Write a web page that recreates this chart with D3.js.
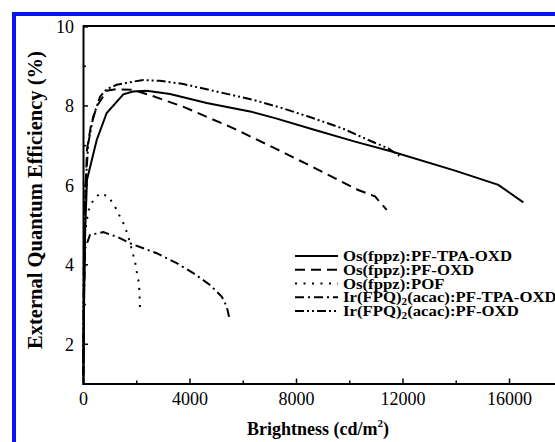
<!DOCTYPE html>
<html>
<head>
<meta charset="utf-8">
<script src="https://cdn.jsdelivr.net/npm/d3@7"></script>
<style>
  html, body { margin: 0; padding: 0; background: #fff; }
  svg { display: block; }
  svg text { font-family: "Liberation Serif", "Times New Roman", Times, "DejaVu Serif", serif !important; }
</style>
</head>
<body>
<svg id="chart" width="555" height="442"></svg>
<script>
// ---- data (brightness cd/m2, EQE %) ----
const seriesNames = [
  "Os(fppz):PF-TPA-OXD",
  "Os(fppz):PF-OXD",
  "Os(fppz):POF",
  "Ir(FPQ)2(acac):PF-TPA-OXD",
  "Ir(FPQ)2(acac):PF-OXD"
];
const osTpaOxd = [[15,1.1],[40,3.0],[80,4.8],[150,6.13],[515,7.13],[890,7.81],[1514,8.28],[1878,8.35],[2393,8.37],[3268,8.29],[4646,8.06],[6272,7.85],[7212,7.68],[8714,7.38],[10216,7.09],[11595,6.84],[13972,6.36],[15599,6.0],[16538,5.56]];
const osPfOxd = [[15,1.2],[40,3.5],[80,5.5],[150,6.9],[300,7.5],[515,7.97],[890,8.37],[1266,8.41],[1889,8.39],[2516,8.26],[3756,7.97],[5634,7.43],[7212,6.92],[8838,6.38],[10340,5.87],[10967,5.71],[11407,5.37]];
const osPof = [[10,1.3],[30,3.5],[80,4.8],[200,5.35],[387,5.62],[639,5.79],[950,5.71],[1202,5.45],[1390,5.20],[1551,4.99],[1701,4.70],[1852,4.32],[1953,4.07],[2017,3.82],[2077,3.61],[2115,3.36],[2141,2.90]];
const irTpaOxd = [[10,1.2],[30,3.0],[80,4.4],[263,4.74],[762,4.81],[1326,4.68],[1765,4.53],[2768,4.28],[3519,4.03],[4143,3.78],[4770,3.48],[5210,3.19],[5397,2.94],[5495,2.65]];
const irPfOxd = [[10,1.5],[30,4.0],[80,5.8],[199,7.05],[387,7.72],[639,8.22],[890,8.41],[1266,8.52],[1889,8.60],[2265,8.64],[2892,8.62],[3767,8.54],[5022,8.35],[6397,8.14],[7399,7.95],[8462,7.72],[9717,7.43],[10716,7.13],[11467,6.92],[11880,6.73]];
const seriesData = [osTpaOxd, osPfOxd, osPof, irTpaOxd, irPfOxd];
const dashes = [null, "10,6", "2,6.5", "9,4,2,4", "9,3,2,3,2,3"];
const xMajorTicks = [0, 4000, 8000, 12000, 16000];
const xMinorTicks = [2000, 6000, 10000, 14000];
const yMajorTicks = [2, 4, 6, 8, 10];
const yMinorTicks = [3, 5, 7, 9];

const FONT = '"Liberation Serif", "Times New Roman", Times, serif';
const svg = d3.select("#chart");
const L = 83, T = 26, B = 383.5;
const x = d3.scaleLinear().domain([0, 18000]).range([L, L + 4.5 * 106.5]);
const y = d3.scaleLinear().domain([1, 10]).range([B, T]);

// blue border
svg.append("rect").attr("x", 12).attr("y", 12).attr("width", 560).attr("height", 4).attr("fill", "#0a14f0");
svg.append("rect").attr("x", 12).attr("y", 12).attr("width", 4).attr("height", 440).attr("fill", "#0a14f0");

// axes
const xAxis = svg.append("g").attr("transform", `translate(0,${B})`)
  .call(d3.axisBottom(x).tickValues(xMajorTicks).tickSize(-5).tickPadding(9).tickFormat(d3.format("d")));
const xMinor = svg.append("g").attr("transform", `translate(0,${B})`)
  .call(d3.axisBottom(x).tickValues(xMinorTicks).tickSize(-3).tickFormat(""));
const yAxis = svg.append("g").attr("transform", `translate(${L},0)`)
  .call(d3.axisLeft(y).tickValues(yMajorTicks).tickSize(-5).tickPadding(9));
const yMinor = svg.append("g").attr("transform", `translate(${L},0)`)
  .call(d3.axisLeft(y).tickValues(yMinorTicks).tickSize(-3).tickFormat(""));
[xAxis, xMinor, yAxis, yMinor].forEach(g => {
  g.attr("font-family", FONT);
  g.select(".domain").attr("stroke", "#000").attr("stroke-width", 2);
  g.selectAll(".tick line").attr("stroke", "#000").attr("stroke-width", 1.5);
  g.selectAll(".tick text").attr("font-size", 18).attr("fill", "#000");
});
yAxis.selectAll(".tick text").attr("dy", "0.36em");
xMinor.select(".domain").remove();
yMinor.select(".domain").remove();
// top / right frame
svg.append("line").attr("x1", L).attr("x2", x(18000)).attr("y1", T).attr("y2", T)
  .attr("stroke", "#000").attr("stroke-width", 2);
svg.append("line").attr("x1", x(18000)).attr("x2", x(18000)).attr("y1", T).attr("y2", B)
  .attr("stroke", "#000").attr("stroke-width", 2);

// lines
const line = d3.line().x(d => x(d[0])).y(d => y(d[1]));
seriesData.forEach((s, i) => {
  svg.append("path").datum(s).attr("d", line)
    .attr("fill", "none").attr("stroke", "#000").attr("stroke-width", 2)
    .attr("stroke-dasharray", dashes[i]);
});

// legend
const lg = svg.append("g").attr("font-family", FONT);
let stretch = null;
seriesNames.forEach((name, i) => {
  const yy = 256 + i * 13.75;
  lg.append("line").attr("x1", 295).attr("x2", 338).attr("y1", yy).attr("y2", yy)
    .attr("stroke", "#000").attr("stroke-width", 2).attr("stroke-dasharray", dashes[i]);
  const t = lg.append("text").attr("x", 343).attr("y", yy + 5)
    .attr("font-size", 15).attr("font-weight", "bold").attr("fill", "#000");
  const m = name.match(/^(Ir\(FPQ\))2(.*)$/);
  if (m) {
    t.append("tspan").text(m[1]);
    t.append("tspan").attr("font-size", 10).attr("dy", 3).text("2");
    t.append("tspan").attr("dy", -3).text(m[2]);
  } else {
    t.text(name);
  }
  const w = t.node().getComputedTextLength();
  if (stretch === null) stretch = 169 / w;
  t.attr("textLength", w * stretch).attr("lengthAdjust", "spacingAndGlyphs");
});

// axis titles
svg.append("text").attr("transform", "translate(42,200) rotate(-90)")
  .attr("font-family", FONT)
  .attr("text-anchor", "middle").attr("font-size", 20.5).attr("font-weight", "bold")
  .text("External Quantum Efficiency (%)");
const xt = svg.append("text").attr("x", 318).attr("y", 435).attr("font-family", FONT)
  .attr("text-anchor", "middle").attr("font-size", 18).attr("font-weight", "bold");
xt.append("tspan").text("Brightness (cd/m");
xt.append("tspan").attr("font-size", 11).attr("dy", -8).text("2");
xt.append("tspan").attr("dy", 8).text(")");
</script>
</body>
</html>
